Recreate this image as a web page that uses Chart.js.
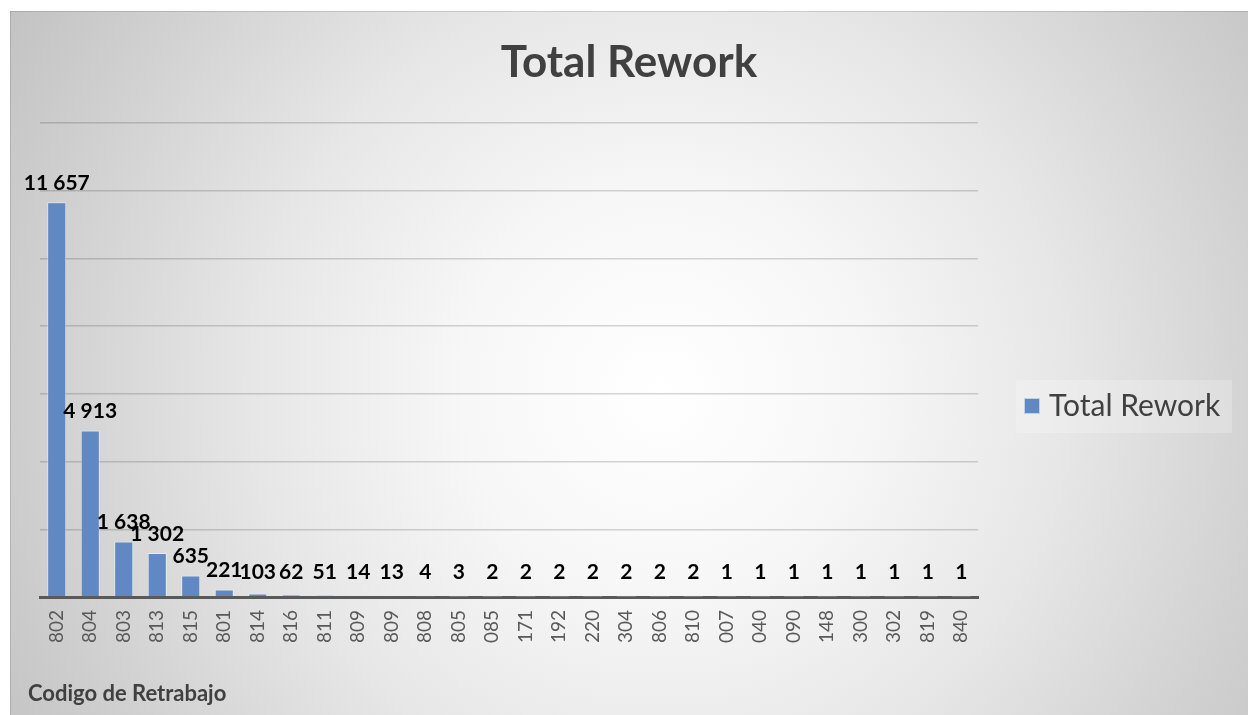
<!DOCTYPE html>
<html>
<head>
<meta charset="utf-8">
<title>Total Rework</title>
<script src="https://cdn.jsdelivr.net/npm/chart.js@4.4.1/dist/chart.umd.min.js"></script>
<style>
  body { margin: 0; background: #fff; }
  canvas { display: block; }
</style>
</head>
<body>
<canvas id="myChart" width="1248" height="715"></canvas>
<script>
// rework codes, sorted by count
const codes = ['802', '804', '803', '813', '815', '801', '814', '816', '811', '809', '809', '808', '805',
               '085', '171', '192', '220', '304', '806', '810',
               '007', '040', '090', '148', '300', '302', '819', '840'];
const rework = [11657, 4913, 1638, 1302, 635, 221, 103, 62, 51, 14, 13, 4, 3,
                2, 2, 2, 2, 2, 2, 2,
                1, 1, 1, 1, 1, 1, 1, 1];
const yTicks = [0, 2000, 4000, 6000, 8000, 10000, 12000, 14000];

const seriesName = 'Total Rework';
const axisName = 'Codigo de Retrabajo';
const barColor = '#6089c3';
const font = 'Lato, Calibri, "Open Sans", sans-serif';

function fmt(n) {
  return String(n).replace(/\B(?=(\d{3})+(?!\d))/g, ' ');
}

// grey radial backdrop, value labels, legend and axis name
const decor = {
  id: 'decor',
  beforeDraw(chart) {
    const c = chart.ctx;
    const w = chart.width, h = chart.height;
    c.save();
    c.fillStyle = '#fff';
    c.fillRect(0, 0, w, h);
    const g = c.createRadialGradient(660, 390, 0, 660, 390, 760);
    g.addColorStop(0, '#ffffff');
    g.addColorStop(0.26, '#f7f7f7');
    g.addColorStop(0.53, '#e7e7e7');
    g.addColorStop(0.79, '#d2d2d2');
    g.addColorStop(1, '#c2c2c2');
    c.fillStyle = g;
    c.fillRect(10, 11, w - 10, h - 11);
    c.strokeStyle = 'rgba(0,0,0,0.12)';
    c.lineWidth = 1;
    c.strokeRect(10.5, 11.5, w - 10, h - 11);
    c.restore();
  },
  afterDatasetsDraw(chart) {
    const c = chart.ctx;
    const meta = chart.getDatasetMeta(0);
    const base = chart.chartArea.bottom;
    c.save();
    c.font = 'bold 21px ' + font;
    c.fillStyle = '#000';
    c.textAlign = 'center';
    c.textBaseline = 'middle';
    meta.data.forEach((bar, i) => {
      const y = Math.min(bar.y - 19, base - 25);
      c.fillText(fmt(rework[i]), bar.x, y);
    });
    c.restore();
  },
  afterDraw(chart) {
    const c = chart.ctx;
    c.save();
    // legend
    c.fillStyle = 'rgba(255,255,255,0.22)';
    c.fillRect(1016, 380, 216, 53);
    c.fillStyle = barColor;
    c.fillRect(1024, 398, 16, 16);
    c.strokeStyle = 'rgba(255,255,255,0.6)';
    c.strokeRect(1024.5, 398.5, 15, 15);
    c.fillStyle = '#404040';
    c.font = '30px ' + font;
    c.textBaseline = 'middle';
    c.textAlign = 'left';
    c.fillText(seriesName, 1049, 406);
    // axis name
    c.font = 'bold 22px ' + font;
    c.fillText(axisName, 28, 694);
    c.restore();
  }
};

const ctx = document.getElementById('myChart');

new Chart(ctx, {
  type: 'bar',
  data: {
    labels: codes,
    datasets: [{
      label: seriesName,
      data: rework,
      backgroundColor: barColor,
      borderColor: 'rgba(255,255,255,0.45)',
      borderWidth: 1,
      barPercentage: 0.57,
      categoryPercentage: 1
    }]
  },
  options: {
    responsive: false,
    animation: false,
    events: [],
    layout: { padding: { top: 11, left: 10, right: 0, bottom: 0 } },
    plugins: {
      legend: { display: false },
      tooltip: { enabled: false },
      title: {
        display: true,
        text: seriesName,
        color: '#404040',
        font: { family: font, size: 44, weight: 'bold', lineHeight: 1.2 },
        padding: { top: 25, bottom: 34 }
      }
    },
    scales: {
      x: {
        grid: { display: false, drawTicks: false },
        border: { display: true, color: '#595959', width: 3 },
        ticks: {
          color: '#595959',
          font: { family: font, size: 19 },
          minRotation: 90,
          maxRotation: 90,
          padding: 13,
          autoSkip: false
        },
        afterFit(scale) { scale.height = 118; }
      },
      y: {
        min: 0,
        max: yTicks[yTicks.length - 1],
        afterBuildTicks(scale) { scale.ticks = yTicks.map(v => ({ value: v })); },
        ticks: { display: false },
        grid: { color: 'rgba(0,0,0,0.16)', lineWidth: 1.5, drawTicks: false },
        border: { display: false },
        afterFit(scale) { scale.width = 30; }
      },
      // empty axis that keeps room for the legend
      side: {
        position: 'right',
        grid: { display: false, drawTicks: false },
        border: { display: false },
        ticks: { display: false },
        afterFit(scale) { scale.width = 270; }
      }
    }
  },
  plugins: [decor]
});
</script>
</body>
</html>
